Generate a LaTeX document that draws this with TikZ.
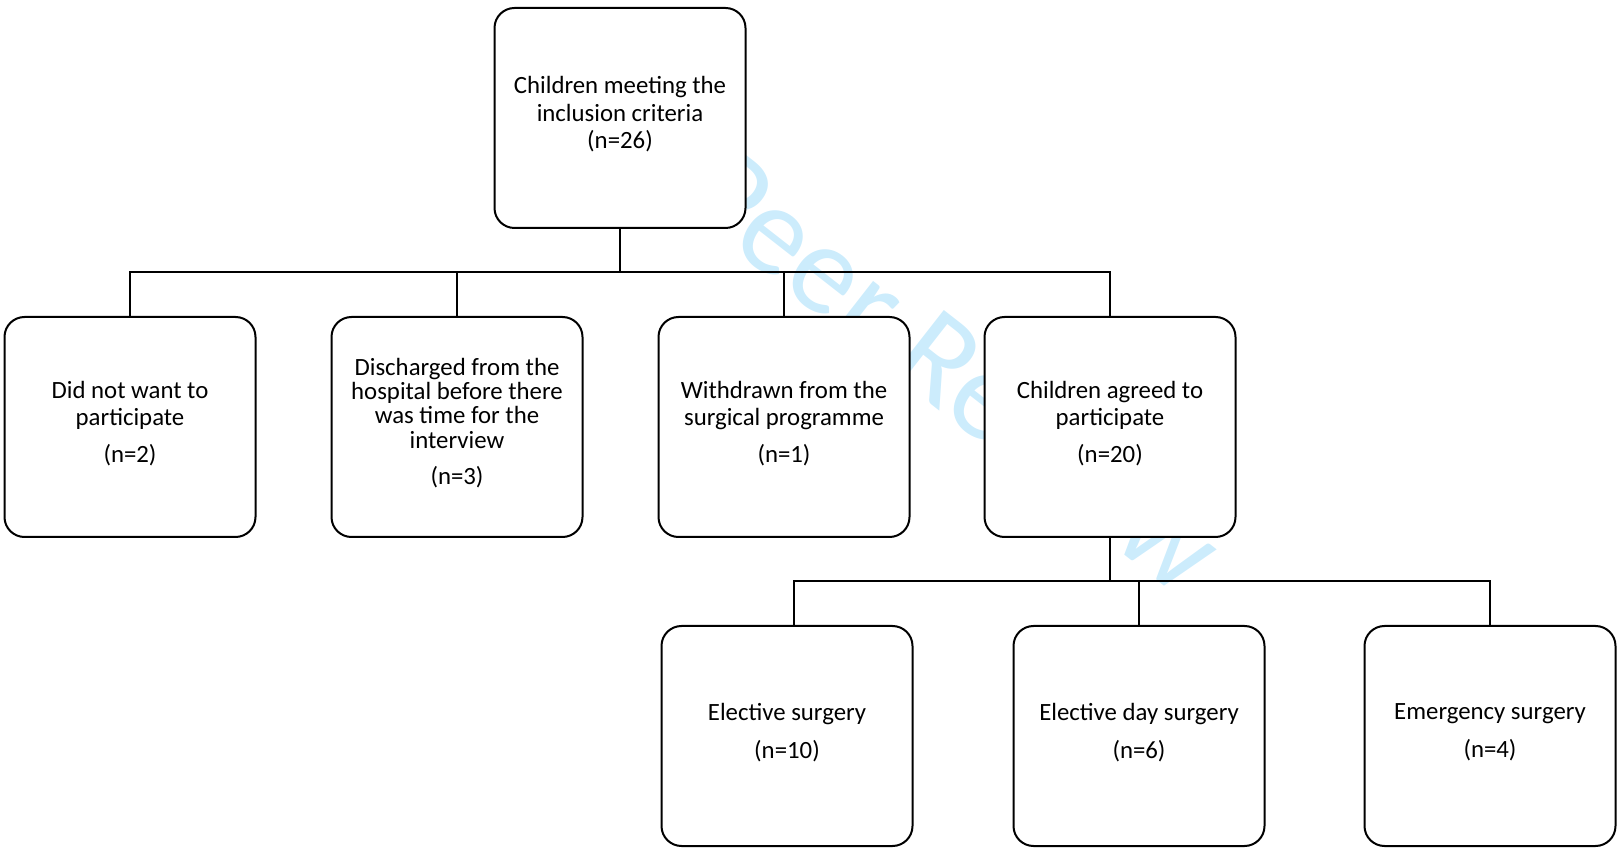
\documentclass[tikz,border=0pt]{standalone}
\usepackage{fontspec}
\setmainfont{Carlito}
\usetikzlibrary{positioning}
\definecolor{wmark}{RGB}{204,236,252}
\begin{document}
\begin{tikzpicture}[x=0.5pt,y=-0.5pt]
   \tikzstyle{bx}=[draw, line width=1pt, rounded corners=10pt, fill=white, minimum width=125.5pt, minimum height=110pt, align=center, inner sep=2pt, text depth=5.5pt, font=\fontsize{12.4}{13.7}\selectfont]
   \tikzstyle{ln}=[line width=1.3pt]
   \useasboundingbox (0,0) rectangle (1617,849);
   %% watermark
\node[rotate=-38, text=wmark, font=\fontsize{64}{66}\selectfont] (wm) at (878,307) {For Peer Review};
   %% boxes
\node[bx] (top) at (620,118) {Children meeting the\\inclusion criteria\\(n=26)};
\node[bx] (no) at (130,427) {Did not want to\\participate\\[4.6pt](n=2)};
\node[bx] (dis) at (457,427) {Discharged from the\\[-1.6pt]hospital before there\\[-1.6pt]was time for the\\[-1.6pt]interview\\[4.6pt](n=3)};
\node[bx] (wd) at (784,427) {Withdrawn from the\\surgical programme\\[4.6pt](n=1)};
\node[bx] (agr) at (1110,427) {Children agreed to\\participate\\[4.6pt](n=20)};
\node[bx] (el) at (787,736) {Elective surgery\\[5.2pt](n=10)};
\node[bx] (day) at (1139,736) {Elective day surgery\\[5.2pt](n=6)};
\node[bx] (em) at (1490,736) {Emergency surgery\\[5.2pt](n=4)};
   %% connectors
\coordinate (bar1) at (620,272);
\coordinate (bar2) at (1110,581);
\draw[ln] (top.south) -- (bar1);
\foreach \n in {no,dis,wd,agr} \draw[ln] (\n.north) |- (bar1);
\draw[ln] (agr.south) -- (bar2);
\draw[ln] ([xshift=3.5pt]el.north) |- (bar2);
\foreach \n in {day,em} \draw[ln] (\n.north) |- (bar2);
\end{tikzpicture}
\end{document}
